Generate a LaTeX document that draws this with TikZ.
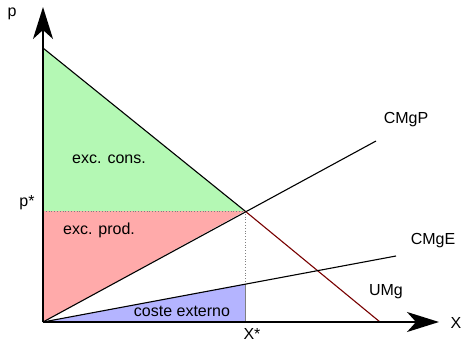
\documentclass[tikz,border=0pt]{standalone}
\usepackage{fontspec}
\setmainfont{Liberation Sans}
\usetikzlibrary{arrows.meta}
\definecolor{cons}{RGB}{180,248,180}
\definecolor{prod}{RGB}{255,170,170}
\definecolor{ext}{RGB}{180,180,255}
\tikzset{
  axis/.style={line width=2pt,-{Stealth[length=32pt,width=20pt,inset=9pt]}},
  curve/.style={line width=1.1pt},
  guide/.style={gray,dotted,line width=0.8pt},
  lbl/.style={font=\fontsize{16}{18}\selectfont},
}
\begin{document}
\begin{tikzpicture}[x=1pt,y=-1pt]
\useasboundingbox (0,0) rectangle (463,343);
% key points
\coordinate (O) at (43,322);
\coordinate (A) at (43,48);   % demand intercept
\coordinate (E) at (245,211); % equilibrium
\coordinate (P) at (43,211);  % p*
\coordinate (Q) at (245,322); % X*
\coordinate (R) at (245,284); % external cost at X*
\coordinate (D) at (380,322); % demand end
\coordinate (Cp) at (376,141);
\coordinate (Ce) at (396,256);
\coordinate (Ytop) at (43,7);
\coordinate (Xtop) at (439,322);
% surplus areas
\fill[cons] (A) -- (E) -- (P) -- cycle;
\fill[prod] (P) -- (E) -- (O) -- cycle;
\fill[ext] (O) -- (R) -- (Q) -- cycle;
% guides
\draw[guide] (P) -- (E);
\draw[guide] (E) -- (Q);
\draw[gray,line width=0.8pt] (R) -- (Q);
% curves
\draw[curve] (A) -- (E);
\draw[curve,draw={rgb,255:red,120;green,0;blue,0}] (E) -- (D);
\draw[curve] (O) -- (Cp);
\draw[curve] (O) -- (Ce);
% axes
\draw[axis] (O) -- (Ytop);
\draw[axis] (O) -- (Xtop);
% labels
\node[lbl] (lp) at (12,14) {p};
\node[lbl] (lps) at (27,203) {p*};
\node[lbl] (lx) at (456,323) {X};
\node[lbl] (lxs) at (252,334) {X*};
\node[lbl] (lcp) at (406,120) {CMgP};
\node[lbl] (lce) at (433,241) {CMgE};
\node[lbl] (lu) at (386,292) {UMg};
\node[lbl] (lc) at (109,159) {exc. cons.};
\node[lbl] (lpr) at (99,230) {exc. prod.};
\node[lbl] (le) at (182,311) {coste externo};
\end{tikzpicture}
\end{document}
